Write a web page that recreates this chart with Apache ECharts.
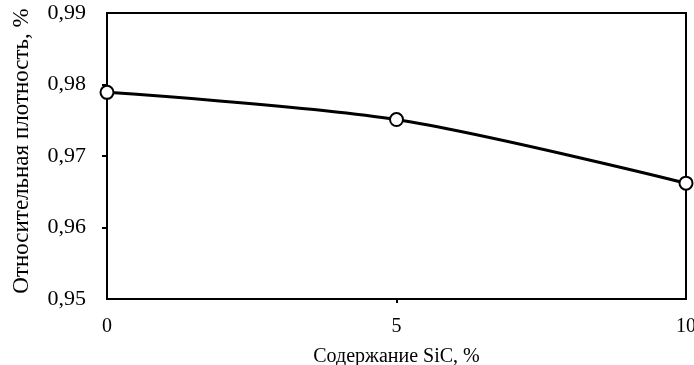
<!DOCTYPE html>
<html>
<head>
<meta charset="utf-8">
<script src="https://cdn.jsdelivr.net/npm/echarts@6/dist/echarts.min.js"></script>
<style>
  html, body { margin: 0; padding: 0; background: #fff; }
  #chart { width: 694px; height: 365px; }
</style>
</head>
<body>
<div id="chart"></div>
<script>
// содержание SiC, % и относительная плотность
var sicContent = [0, 5, 10];
var density = [0.9789, 0.9751, 0.9662];
var yTicks = [0.96, 0.97, 0.98];
var xTicks = [5];

var font = '"Liberation Serif", "Times New Roman", serif';

var myChart = echarts.init(document.getElementById('chart'));

function comma(v) {
    return v.toFixed(2).replace('.', ',');
}

var points = [];
for (var i = 0; i < sicContent.length; i++) {
    points.push([sicContent[i], density[i]]);
}

var option = {
    animation: false,
    grid: {
        left: 107,
        right: 8,
        top: 13,
        bottom: 66,
        outerBoundsMode: 'none',
        containLabel: false,
        show: true,
        borderColor: '#000',
        borderWidth: 2
    },
    xAxis: {
        type: 'value',
        min: 0,
        max: 10,
        interval: 5,
        name: 'Содержание SiC, %',
        nameLocation: 'middle',
        nameGap: 48,
        nameTextStyle: { color: '#000', fontFamily: font, fontSize: 20 },
        axisLine: { show: true, lineStyle: { color: '#000', width: 2 } },
        axisTick: {
            show: true,
            inside: false,
            length: 4,
            customValues: xTicks,
            lineStyle: { color: '#000', width: 2 }
        },
        axisLabel: { color: '#000', fontFamily: font, fontSize: 20, margin: 18 },
        splitLine: { show: false }
    },
    yAxis: {
        type: 'value',
        min: 0.95,
        max: 0.99,
        interval: 0.01,
        name: 'Относительная плотность, %',
        nameLocation: 'middle',
        nameGap: 74,
        nameTextStyle: { color: '#000', fontFamily: font, fontSize: 23, padding: [0, 0, 0, 10] },
        axisLine: { show: true, lineStyle: { color: '#000', width: 2 } },
        axisTick: {
            show: true,
            inside: false,
            length: 5,
            customValues: yTicks,
            lineStyle: { color: '#000', width: 2 }
        },
        axisLabel: {
            color: '#000',
            fontFamily: font,
            fontSize: 22,
            margin: 21,
            formatter: comma
        },
        splitLine: { show: false }
    },
    series: [
        {
            type: 'line',
            data: points,
            smooth: 0.3,
            symbol: 'circle',
            symbolSize: 13,
            lineStyle: { color: '#000', width: 3 },
            itemStyle: { color: '#fff', borderColor: '#000', borderWidth: 2 }
        }
    ]
};

myChart.setOption(option);
</script>
</body>
</html>
